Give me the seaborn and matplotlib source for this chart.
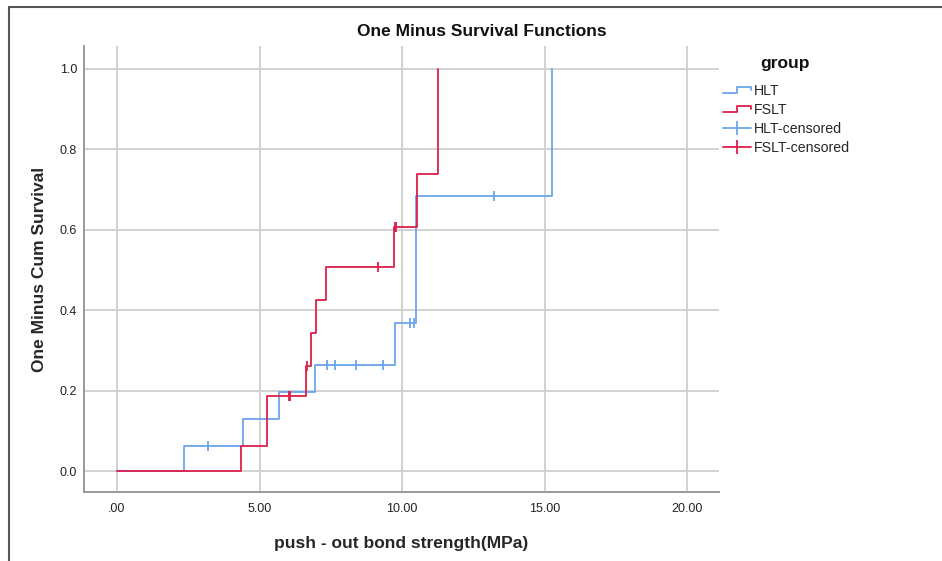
import numpy as np
import pandas as pd
import matplotlib
matplotlib.use("Agg")
import matplotlib.pyplot as plt
import seaborn as sns
from matplotlib.lines import Line2D
from matplotlib.legend_handler import HandlerBase

# ---- data ----
groups = ["HLT", "FSLT"]
hlt_times = [0.0, 2.35, 4.42, 5.68, 6.95, 9.75, 10.49, 15.26]
hlt_cum = [0.0, 0.0625, 0.129, 0.197, 0.264, 0.368, 0.684, 1.0]
hlt_cens_t = [3.20, 7.37, 7.63, 8.39, 9.33, 10.28, 10.42, 13.23]
hlt_cens_y = [0.0625, 0.264, 0.264, 0.264, 0.264, 0.368, 0.368, 0.684]

fslt_times = [0.0, 4.35, 5.26, 6.63, 6.81, 6.98, 7.33, 9.72, 10.52, 11.26, 11.26]
fslt_cum = [0.0, 0.0625, 0.187, 0.261, 0.343, 0.425, 0.507, 0.607, 0.739, 0.871, 1.0]
fslt_cens_t = [6.02, 6.08, 6.66, 9.16, 9.74, 9.78]
fslt_cens_y = [0.187, 0.187, 0.261, 0.507, 0.607, 0.607]

x_ticks = [0, 5, 10, 15, 20]
x_tick_labels = [".00", "5.00", "10.00", "15.00", "20.00"]
y_ticks = [0.0, 0.2, 0.4, 0.6, 0.8, 1.0]
y_tick_labels = ["0.0", "0.2", "0.4", "0.6", "0.8", "1.0"]
legend_labels = ["HLT", "FSLT", "HLT-censored", "FSLT-censored"]

colors = {"HLT": "#6aa6ec", "FSLT": "#dc1f4b"}

steps = pd.DataFrame({
    "time": hlt_times + fslt_times,
    "cum": hlt_cum + fslt_cum,
    "group": ["HLT"] * len(hlt_times) + ["FSLT"] * len(fslt_times),
})
cens = pd.DataFrame({
    "time": hlt_cens_t + fslt_cens_t,
    "cum": hlt_cens_y + fslt_cens_y,
    "group": ["HLT"] * len(hlt_cens_t) + ["FSLT"] * len(fslt_cens_t),
})

sns.set_theme(style="white")
plt.rcParams["font.family"] = ["Liberation Sans", "DejaVu Sans"]

fig = plt.figure(figsize=(9.42, 5.61), dpi=100)
ax = fig.add_axes([84 / 942, 1 - 492 / 561, (719 - 84) / 942, (492 - 46) / 561])

for g in groups:
    sub = steps[steps.group == g]
    sns.lineplot(data=sub, x="time", y="cum", ax=ax, color=colors[g],
                 drawstyle="steps-post", estimator=None, sort=False,
                 linewidth=1.3, legend=False, zorder=3)
    csub = cens[cens.group == g]
    sns.scatterplot(data=csub, x="time", y="cum", ax=ax, color=colors[g],
                    marker="|", s=60, linewidth=1.3, legend=False, zorder=4)

ax.set_xlim(-1.16, 21.12)
ax.set_ylim(-0.052, 1.057)
ax.set_xticks(x_ticks)
ax.set_xticklabels(x_tick_labels)
ax.set_yticks(y_ticks)
ax.set_yticklabels(y_tick_labels)
ax.tick_params(axis="both", length=0, labelsize=9, colors="#222222")
ax.tick_params(axis="x", pad=8)
ax.tick_params(axis="y", pad=5)
ax.grid(True, color="#d2d2d2", linewidth=1.4, zorder=0)
ax.set_axisbelow(True)
for s in ["top", "right"]:
    ax.spines[s].set_visible(False)
ax.spines["left"].set_color("#9a9a9a")
ax.spines["bottom"].set_color("#9a9a9a")
ax.spines["left"].set_linewidth(1.4)
ax.spines["bottom"].set_linewidth(1.4)

fig.text(482 / 942, 1 - 31 / 561, "One Minus Survival Functions", fontsize=12.5,
         fontweight="bold", ha="center", va="center", color="#111111")
ax.set_xlabel("push - out bond strength(MPa)", fontsize=12.5, fontweight="bold", labelpad=15)
ax.set_ylabel("One Minus Cum Survival", fontsize=12.5, fontweight="bold", labelpad=9)


class StepHandler(HandlerBase):
    def create_artists(self, legend, orig_handle, xdescent, ydescent,
                       width, height, fontsize, trans):
        x0, x1 = -xdescent, -xdescent + width
        ylo = -ydescent + height * 0.2
        yhi = -ydescent + height * 0.85
        xm = x0 + width * 0.5
        line = Line2D([x0, xm, xm, x1, x1], [ylo, ylo, yhi, yhi, yhi - height * 0.3],
                      color=orig_handle.get_color(), linewidth=1.3, transform=trans)
        return [line]


h_hlt = Line2D([], [], color=colors["HLT"])
h_fslt = Line2D([], [], color=colors["FSLT"])
h_hc = Line2D([0], [0], color=colors["HLT"], marker="|", markersize=10, linewidth=1.3, markeredgewidth=1.3)
h_fc = Line2D([0], [0], color=colors["FSLT"], marker="|", markersize=10, linewidth=1.3, markeredgewidth=1.3)

leg = fig.legend([h_hlt, h_fslt, h_hc, h_fc], legend_labels,
                 loc="upper left",
                 bbox_to_anchor=(716 / 942, 1 - 77 / 561),
                 frameon=False, fontsize=10.2, handlelength=1.95,
                 handletextpad=0.2, labelspacing=0.36, borderpad=0,
                 handler_map={h_hlt: StepHandler(), h_fslt: StepHandler()})
fig.text(785 / 942, 1 - 64 / 561, "group", fontsize=12.5, fontweight="bold",
         ha="center", va="center", color="#111111")

# outer frame lines (top and left)
fig.add_artist(Line2D([9 / 942, 1.0], [1 - 7 / 561, 1 - 7 / 561], transform=fig.transFigure,
                      color="#555555", linewidth=1.5))
fig.add_artist(Line2D([9 / 942, 9 / 942], [0, 1 - 7 / 561], transform=fig.transFigure,
                      color="#555555", linewidth=1.5))

fig.savefig("out.png", dpi=100, facecolor="white")
